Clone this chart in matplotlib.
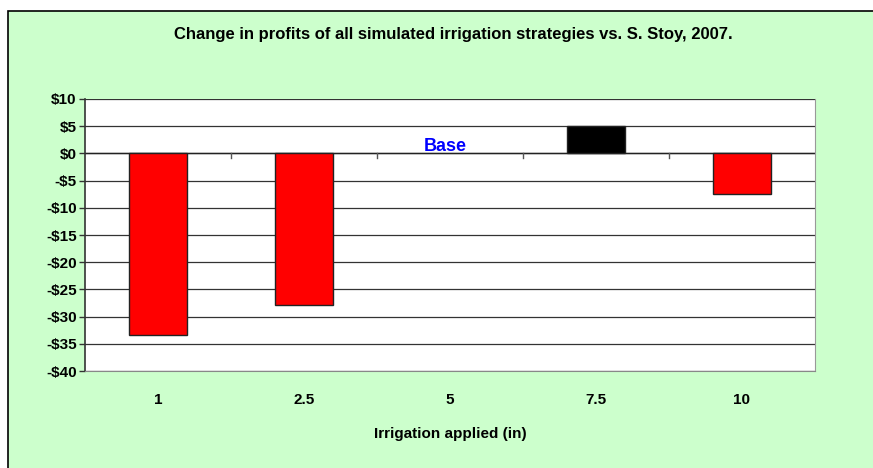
import matplotlib
matplotlib.use("Agg")
import matplotlib.pyplot as plt
from matplotlib.patches import Rectangle
import numpy as np

categories = ["1", "2.5", "5", "7.5", "10"]
values = [-33.3, -27.9, 0.0, 5.0, -7.4]
bar_colors = ["#FF0000", "#FF0000", "#FF0000", "#000000", "#FF0000"]
ytick_vals = [10, 5, 0, -5, -10, -15, -20, -25, -30, -35, -40]
ytick_labels = ["$10", "$5", "$0", "-$5", "-$10", "-$15", "-$20", "-$25", "-$30", "-$35", "-$40"]

plt.rcParams['font.family'] = ['Liberation Sans', 'DejaVu Sans']

W, H = 873, 468
fig = plt.figure(figsize=(W / 100, H / 100), dpi=100)
fig.patch.set_facecolor("white")

# green chart-area background with border
fig.patches.append(Rectangle((8 / W, -0.1), 1.1, (H - 11) / H + 0.1,
                             transform=fig.transFigure, facecolor="#CCFFCC",
                             edgecolor="black", linewidth=1.2, zorder=-5))

ax = fig.add_axes([85 / W, 97 / H, 730 / W, 272 / H])
ax.set_zorder(1)
ax.set_facecolor("white")

x = np.arange(len(categories))
for i, (v, c) in enumerate(zip(values, bar_colors)):
    if v != 0:
        ax.bar(x[i], v, width=0.4, color=c, edgecolor="#222222", linewidth=1.0, zorder=3)

ax.set_xlim(-0.5, len(categories) - 0.5)
ax.set_ylim(-40, 10)
ax.set_yticks(ytick_vals)
ax.set_yticklabels(ytick_labels, fontsize=11, fontweight="bold")
for yv in ytick_vals:
    ax.axhline(yv, color="#333333", linewidth=0.9, zorder=1)

# x axis at zero with tick marks at category boundaries
ax.axhline(0, color="#222222", linewidth=1.0, zorder=2)
for b in np.arange(0.5, len(categories) - 0.5, 1.0):
    ax.plot([b, b], [0, -0.8], color="#555555", linewidth=1.0, zorder=2)

ax.set_xticks(x)
ax.set_xticklabels(categories, fontsize=11, fontweight="bold")
ax.tick_params(axis="x", length=0, pad=15.5)
ax.tick_params(axis="y", length=4, width=1, color="#333333", direction="out", pad=2)

ax.spines["top"].set_visible(False)
ax.spines["right"].set_color("#999999")
ax.spines["bottom"].set_color("#888888")
ax.spines["left"].set_color("#333333")
ax.spines["left"].set_linewidth(1.2)

ax.text(2 - 0.035, 1.3, "Base", color="#0000FF", fontsize=13, fontweight="bold",
        ha="center", va="center", zorder=4)

ax.set_xlabel("Irrigation applied (in)", fontsize=11, fontweight="bold", labelpad=15)
fig.text(453 / W, 1 - 35 / H, "Change in profits of all simulated irrigation strategies vs. S. Stoy, 2007.",
         ha="center", va="center", fontsize=12, fontweight="bold")

fig.savefig("out.png", dpi=100)
